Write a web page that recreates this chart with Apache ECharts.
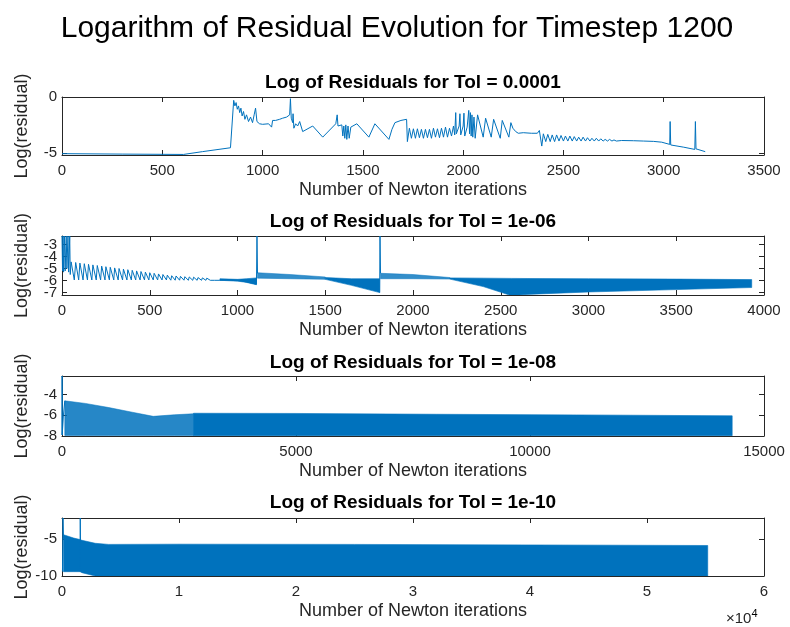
<!DOCTYPE html>
<html><head><meta charset="utf-8">
<script src="https://cdn.jsdelivr.net/npm/echarts@6/dist/echarts.min.js"></script>
<style>html,body{margin:0;padding:0;background:#fff}#c{width:790px;height:627px}</style>
</head><body><div id="c"></div>
<script>
// ---------- text ----------
const mainTitle = 'Logarithm of Residual Evolution for Timestep 1200';
const subTitles = ['Log of Residuals for Tol = 0.0001','Log of Residuals for Tol = 1e-06','Log of Residuals for Tol = 1e-08','Log of Residuals for Tol = 1e-10'];
const xName = 'Number of Newton iterations';
const yName = 'Log(residual)';
const expLabel = '\u00d710';

// ---------- ticks ----------
const xTicks1 = [0,500,1000,1500,2000,2500,3000,3500];
const xTicks2 = [0,500,1000,1500,2000,2500,3000,3500,4000];
const xTicks3 = [0,5000,10000,15000];
const xTicks4 = [0,10000,20000,30000,40000,50000,60000];
const yTicks1 = [0,-5];
const yTicks2 = [-3,-4,-5,-6,-7];
const yTicks3 = [-4,-6,-8];
const yTicks4 = [-5,-10];

// ---------- data: Tol = 1e-4 ----------
const tol4Line = [
[0,-5.08],[300,-5.12],[606,-5.15],[700,-4.9],[840,-4.55],
[856,-0.3],[862,-0.8],[868,-0.5],[874,-1.1],[880,-0.8],[886,-1.4],[892,-1.0],[898,-1.7],[905,-1.3],[912,-2.0],[920,-1.6],[930,-2.2],[940,-1.8],[950,-2.3],[958,-1.6],[965,-1.0],[972,-2.2],[985,-2.4],[1000,-2.45],[1030,-2.4],[1045,-2.7],[1050,-2.1],[1065,-2.1],[1085,-2.0],[1100,-1.9],[1120,-1.8],[1135,-1.6],[1139,-0.15],[1143,-1.9],[1150,-2.3],[1152,-1.5],[1156,-2.8],[1165,-2.4],[1175,-2.6],[1185,-2.2],[1200,-3.1],[1250,-2.6],[1300,-3.6],[1365,-2.4],[1372,-1.6],[1376,-2.6],[1395,-2.5],[1400,-3.5],[1405,-2.6],[1410,-3.7],[1415,-2.5],[1420,-3.8],[1426,-2.6],[1432,-3.7],[1440,-2.7],[1470,-2.4],[1530,-3.6],[1560,-2.4],[1630,-3.8],[1645,-2.9],[1660,-2.3],[1690,-2.1],[1718,-2.0],[1722,-4.0],
[1732,-2.8],[1742,-3.7],[1752,-2.85],[1762,-3.7],[1772,-2.85],[1782,-3.65],[1792,-2.9],[1802,-3.7],[1812,-2.9],[1822,-3.65],[1832,-2.9],[1842,-3.7],[1852,-2.8],[1862,-3.6],[1872,-2.85],[1882,-3.65],[1892,-2.8],[1902,-3.6],[1912,-2.7],[1922,-3.6],[1932,-2.8],[1942,-3.5],[1952,-2.6],[1958,-3.4],[1963,-1.4],[1966,-3.3],[1980,-2.6],[1984,-1.5],[1988,-3.4],[2000,-2.6],[2004,-1.45],[2008,-3.5],[2020,-2.7],[2028,-1.2],[2032,-3.3],[2036,-1.4],[2040,-3.5],[2044,-1.6],[2048,-3.6],[2054,-1.8],[2060,-3.7],[2072,-1.6],[2100,-3.6],[2112,-1.9],[2140,-3.6],[2152,-2.0],[2185,-3.7],[2195,-2.1],[2228,-3.6],[2238,-2.3],[2248,-2.8],[2262,-3.1],[2275,-3.25],[2300,-3.2],[2340,-3.25],[2370,-3.25],[2380,-3.0],[2388,-3.0],[2392,-4.4],
[2400,-3.3],[2412,-4.0],[2422,-3.35],[2434,-4.0],[2444,-3.4],[2456,-4.0],[2466,-3.4],[2478,-3.95],[2488,-3.45],[2500,-3.95],[2510,-3.5],[2522,-3.95],[2532,-3.5],[2544,-3.95],[2554,-3.55],[2566,-3.95],[2576,-3.6],[2588,-3.95],[2598,-3.6],[2610,-3.95],[2620,-3.65],[2632,-3.95],[2642,-3.7],[2654,-3.95],[2664,-3.7],[2676,-3.95],[2686,-3.75],[2698,-3.95],[2708,-3.8],[2720,-3.95],[2730,-3.8],[2742,-3.95],[2752,-3.85],[2764,-3.95],[2790,-3.9],[2850,-3.92],[2900,-3.95],[2950,-3.98],[2990,-4.05],[3030,-4.25],[3032,-2.2],[3035,-4.3],[3100,-4.5],[3155,-4.7],[3158,-2.2],[3161,-4.65],[3207,-4.9]
];

// ---------- data: Tol = 1e-6 ----------
const tol6Line = [
[0,-2.3],[3,-5.2],[6,-2.3],[9,-5.3],[14,-2.3],[18,-5.2],[24,-2.3],[28,-5.0],[34,-2.3],[38,-5.3],[44,-2.3],[47,-5.5],
[52,-4.45],[70,-5.95],[78,-4.5],[95,-5.95],[102,-4.55],[120,-5.95],[127,-4.6],[145,-5.95],[151,-4.65],[170,-5.95],[176,-4.7],[195,-5.95],[201,-4.75],[220,-5.95],[226,-4.8],[245,-5.95],[250,-4.85],[270,-5.95],[275,-4.9],[295,-5.95],[300,-4.95],[320,-5.95],[325,-5.0],[345,-5.95],[350,-5.05],[370,-5.95],[375,-5.1],[395,-5.95],[400,-5.15],[420,-5.95],[425,-5.2],[445,-5.95],[450,-5.25],[470,-5.95],[475,-5.3],[495,-5.95],[500,-5.35],[520,-5.95],[525,-5.4],[545,-5.95],[550,-5.45],[570,-5.95],[575,-5.5],[595,-5.95],[600,-5.55],[620,-5.97],[625,-5.6],[645,-5.97],[650,-5.62],[670,-5.97],[675,-5.65],[695,-5.97],[700,-5.68],[720,-5.98],[725,-5.7],[745,-5.98],[750,-5.72],[770,-5.98],[775,-5.75],[795,-5.98],[800,-5.78],[820,-5.98],[825,-5.8],[845,-5.98],[850,-5.82],[870,-5.98],[875,-5.85],[895,-5.98],[900,-5.87],
[1000,-5.97],[1108,-6.3],[1111,-2.3],[1114,-5.4]
];
const tol6Spike = [[1810,-7.0],[1812,-2.3],[1815,-5.4]];
// bands: [x, upper, lower]
const tol6BandA = [[900,-5.85,-5.98],[1000,-5.9,-6.05],[1050,-5.85,-6.15],[1108,-5.78,-6.35]];
const tol6BandB = [[1114,-5.35,-5.8],[1300,-5.5,-5.85],[1500,-5.7,-5.9]];
const tol6BandC = [[1500,-5.75,-5.9],[1650,-5.85,-6.4],[1810,-5.85,-7.0]];
const tol6BandD = [[1815,-5.4,-5.85],[2000,-5.5,-5.85],[2210,-5.75,-5.88]];
const tol6BandE = [[2210,-5.78,-5.88],[2400,-5.8,-6.5],[2560,-5.82,-7.25],[2650,-5.83,-7.15],[3000,-5.85,-6.95],[3500,-5.88,-6.75],[3930,-5.92,-6.58]];

// ---------- data: Tol = 1e-8 ----------
const tol8Line = [[0,-7.9],[2,-2.2],[5,-7.9],[30,-6.0],[60,-4.6]];
const tol8BandA = [[60,-4.6,-7.95],[500,-4.85,-7.95],[1000,-5.25,-7.95],[1500,-5.7,-7.95],[1950,-6.1,-7.95],[2400,-5.95,-7.95],[2810,-5.85,-7.95]];
const tol8BandB = [[2810,-5.8,-7.97],[5000,-5.82,-7.97],[8000,-5.9,-7.97],[11000,-5.96,-7.97],[14320,-6.05,-7.97]];

// ---------- data: Tol = 1e-10 ----------
const tol10Line = [[40,-9.4],[85,-2.2],[130,-5.0]];
const tol10Spike = [[1540,-9.4],[1560,-2.2],[1580,-5.3]];
const tol10Band = [[130,-4.45,-9.42],[1000,-4.9,-9.42],[1550,-5.1,-9.42],[1700,-5.2,-9.55],[2840,-5.6,-10],[3980,-5.75,-10],[10000,-5.72,-10],[25000,-5.75,-10],[40000,-5.82,-10],[55190,-5.9,-10]];

// ---------- build ----------
const BLUE = '#0072BD';
const AX = '#262626';
const FONT = '"Liberation Sans", Arial, sans-serif';
const grids = [
  {left:62, top:97, width:702, height:58},
  {left:62, top:236, width:702, height:59},
  {left:62, top:376, width:702, height:60},
  {left:62, top:518, width:702, height:58}
];
const xr = [[0,3500,xTicks1],[0,4000,xTicks2],[0,15000,xTicks3],[0,60000,xTicks4]];
const yr = [[-5.2,0,yTicks1],[-7.2,-2.3,yTicks2],[-8,-2.2,yTicks3],[-10,-2.2,yTicks4]];

const yLabelStyle = {margin:5, color:AX, fontSize:15, fontFamily:FONT, hideOverlap:false, showMinLabel:true, showMaxLabel:true};
const xAxis = [], yAxis = [];
grids.forEach((g,i)=>{
  const [mn,mx,tk] = xr[i];
  const fmt = i===3 ? (v=>String(v/10000)) : (v=>String(v));
  xAxis.push({type:'value', gridIndex:i, position:'bottom', min:mn, max:mx,
    axisLine:{show:true, onZero:false, lineStyle:{color:AX,width:1}},
    axisTick:{show:true, inside:true, length:5, customValues:tk, lineStyle:{color:AX}},
    axisLabel:{show:true, customValues:tk, formatter:fmt, margin:8, color:AX, fontSize:15, fontFamily:FONT, hideOverlap:false, showMinLabel:true, showMaxLabel:true},
    splitLine:{show:false},
    name:xName, nameLocation:'middle', nameGap:35,
    nameTextStyle:{fontSize:18, color:AX, fontFamily:FONT, verticalAlign:'middle'}
  });
  xAxis.push({type:'value', gridIndex:i, position:'top', min:mn, max:mx,
    axisLine:{show:true, onZero:false, lineStyle:{color:AX,width:1}},
    axisTick:{show:true, inside:true, length:5, customValues:tk, lineStyle:{color:AX}},
    axisLabel:{show:false}, splitLine:{show:false}
  });
  const [ymn,ymx,ytk] = yr[i];
  // labels split over two axes so that closely spaced labels are all drawn
  const labA = ytk.filter((v,k)=>k%2===0), labB = ytk.filter((v,k)=>k%2===1);
  yAxis.push({type:'value', gridIndex:i, position:'left', min:ymn, max:ymx,
    axisLine:{show:true, onZero:false, lineStyle:{color:AX,width:1}},
    axisTick:{show:true, inside:true, length:5, customValues:ytk, lineStyle:{color:AX}},
    axisLabel:Object.assign({show:true, customValues:labA}, yLabelStyle),
    splitLine:{show:false},
    name:yName, nameLocation:'middle', nameGap:40, nameRotate:90,
    nameTextStyle:{fontSize:18, color:AX, fontFamily:FONT, verticalAlign:'middle'}
  });
  yAxis.push({type:'value', gridIndex:i, position:'right', min:ymn, max:ymx,
    axisLine:{show:true, onZero:false, lineStyle:{color:AX,width:1}},
    axisTick:{show:true, inside:true, length:5, customValues:ytk, lineStyle:{color:AX}},
    axisLabel:{show:false}, splitLine:{show:false}
  });
  if (labB.length) {
    yAxis.push({type:'value', gridIndex:i, position:'left', min:ymn, max:ymx,
      axisLine:{show:false}, axisTick:{show:false},
      axisLabel:Object.assign({show:true, customValues:labB}, yLabelStyle),
      splitLine:{show:false}
    });
  }
});
const yIdx = [];
yAxis.forEach((a,k)=>{ if (a.name) yIdx[a.gridIndex] = k; });

function lineS(data, gi){
  return {type:'line', xAxisIndex:gi*2, yAxisIndex:yIdx[gi], data:data, symbol:'none', showSymbol:false,
    clip:true, silent:true, animation:false, lineStyle:{color:BLUE, width:1}};
}
function bandS(rows, gi, op){
  return {type:'custom', xAxisIndex:gi*2, yAxisIndex:yIdx[gi], data:rows, clip:true, silent:true, animation:false,
    encode:{x:0, y:[1,2]},
    renderItem:function(params, api){
      if (params.dataIndex !== 0) return null;
      const up = rows.map(r=>api.coord([r[0], r[1]]));
      const lo = rows.slice().reverse().map(r=>api.coord([r[0], r[2]]));
      return {type:'polygon', shape:{points:up.concat(lo)}, style:{fill:BLUE, opacity:op, stroke:BLUE, lineWidth:0.6}};
    }};
}

const series = [
  lineS(tol4Line,0),
  bandS(tol6BandA,1,1), bandS(tol6BandB,1,0.8), bandS(tol6BandC,1,1), bandS(tol6BandD,1,0.8), bandS(tol6BandE,1,1),
  lineS(tol6Line,1), lineS(tol6Spike,1),
  bandS(tol8BandA,2,0.85), bandS(tol8BandB,2,1), lineS(tol8Line,2),
  bandS(tol10Band,3,1), lineS(tol10Line,3), lineS(tol10Spike,3)
];

const subY = [83, 222, 363, 503];
const graphic = [
  {type:'text', x:397, y:29, style:{text:mainTitle, font:'30px '+FONT, fill:'#000', align:'center', verticalAlign:'middle'}}
];
subTitles.forEach((t,i)=>graphic.push({type:'text', x:413, y:subY[i], style:{text:t, font:'bold 19px '+FONT, fill:'#000', align:'center', verticalAlign:'middle'}}));
graphic.push({type:'text', x:726, y:619, style:{text:'{a|'+expLabel+'}{b|4}', align:'left', verticalAlign:'middle',
  rich:{a:{fontSize:15, fontFamily:FONT, fill:AX, color:AX}, b:{fontSize:11, fontFamily:FONT, color:AX, verticalAlign:'top', padding:[0,0,10,0]}}}});

const chart = echarts.init(document.getElementById('c'), null, {renderer:'canvas'});
chart.setOption({animation:false, backgroundColor:'#fff', grid:grids, xAxis:xAxis, yAxis:yAxis, series:series, graphic:graphic});
</script></body></html>
